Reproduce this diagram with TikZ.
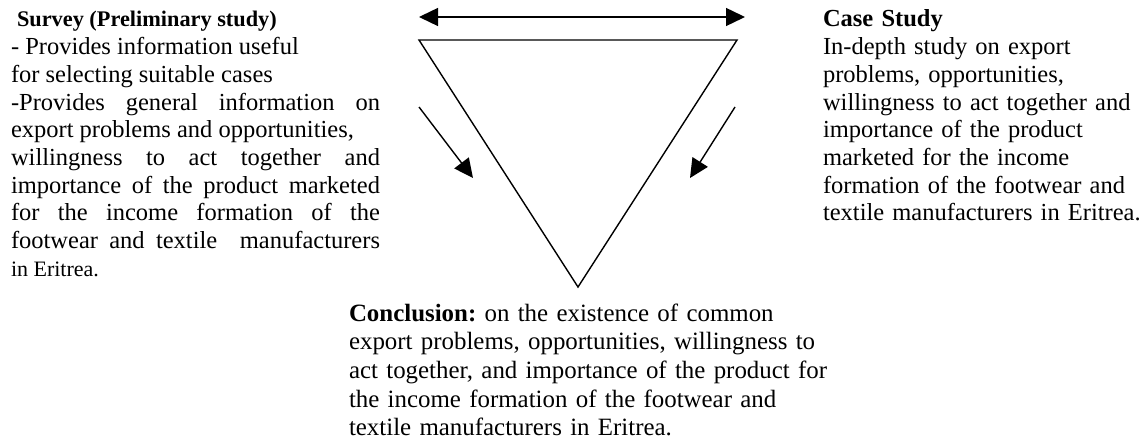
\documentclass[tikz,border=0pt]{standalone}
\usepackage{fontspec}
\setmainfont{Liberation Serif}
\usetikzlibrary{arrows.meta}
\tikzset{
  txt/.style={anchor=base west, inner sep=0pt, outer sep=0pt, font=\fontsize{24.5}{27.7}\selectfont\frenchspacing},
  edge/.style={line width=1.4pt, line join=miter},
  arr/.style={line width=1.4pt, -{Triangle[length=19pt,width=18pt]}},
  darr/.style={line width=1.4pt, {Triangle[length=19pt,width=18pt]}-{Triangle[length=19pt,width=18pt]}}
}
\begin{document}
\frenchspacing
\begin{tikzpicture}[x=1pt,y=-1pt]
\useasboundingbox (0,0) rectangle (1145,441);
% triangle
\coordinate (tl) at (419,40);
\coordinate (tr) at (737,40);
\coordinate (ap) at (578,287);
\draw[edge] (tl) -- (tr) -- (ap) -- cycle;
% top double arrow
\coordinate (dl) at (419,17);
\coordinate (dr) at (745,17);
\draw[darr] (dl) -- (dr);
% side arrows
\coordinate (la) at (419,107);
\coordinate (lb) at (473,178);
\coordinate (ra) at (735,107);
\coordinate (rb) at (690,178);
\draw[arr] (la) -- (lb);
\draw[arr] (ra) -- (rb);
% left block
\node[txt, text width=369pt, align=justify] (survey) at (11,27)
{\hspace*{6pt}{\bfseries\fontsize{22.3}{27.7}\selectfont Survey (Preliminary study)}\newline
- Provides information useful\newline
for selecting suitable cases\newline
-Provides general information on\linebreak
export problems and opportunities,\newline
willingness to act together and\linebreak
importance of the product marketed\linebreak
for the income formation of the\linebreak
footwear and textile\ \ manufacturers\linebreak
{\fontsize{22}{27.7}\selectfont in Eritrea.}};
% right block
\node[txt, text width=322pt, align=left] (case) at (823,27)
{\textbf{Case Study}\\
In-depth study on export\\
problems, opportunities,\\
willingness to act together and\\
importance of the product\\
marketed for the income\\
formation of the footwear and\\
textile manufacturers in Eritrea.};
% conclusion
\node[txt, text width=500pt, align=left, font=\fontsize{24.9}{28.7}\selectfont\frenchspacing] (concl) at (349,321)
{\textbf{Conclusion:} on the existence of common\\
export problems, opportunities, willingness to\\
act together, and importance of the product for\\
the income formation of the footwear and\\
textile manufacturers in Eritrea.};
\end{tikzpicture}
\end{document}
